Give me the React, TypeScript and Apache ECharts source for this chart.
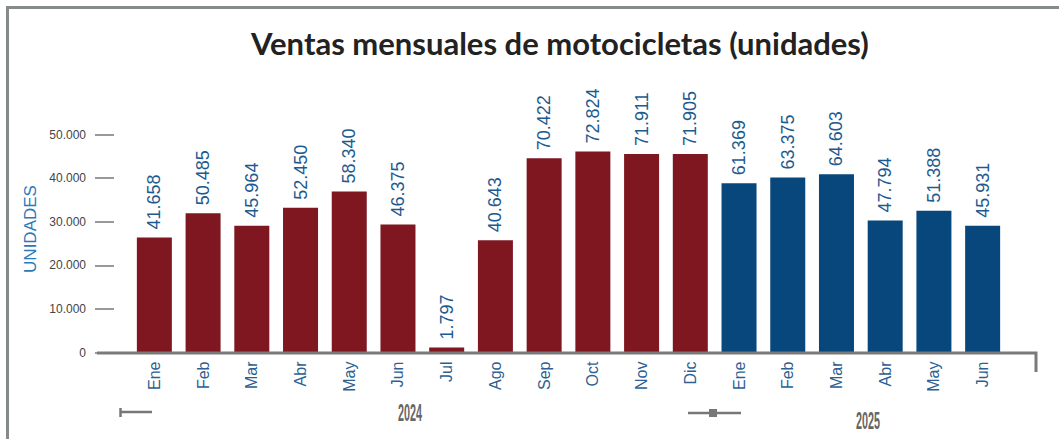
import React, { useEffect, useRef } from "react";
import * as echarts from "echarts";

const months = ["Ene", "Feb", "Mar", "Abr", "May", "Jun", "Jul", "Ago", "Sep", "Oct", "Nov", "Dic", "Ene", "Feb", "Mar", "Abr", "May", "Jun"];
const values2024 = [41658, 50485, 45964, 52450, 58340, 46375, 1797, 40643, 70422, 72824, 71911, 71905];
const values2025 = [61369, 63375, 64603, 47794, 51388, 45931];
const yTickLabels = ["0", "10.000", "20.000", "30.000", "40.000", "50.000"];
const years = ["2024", "2025"];
// data units between two labelled ticks of the original (mis-scaled) axis
const AXIS_STEP = 15800;

const color2024 = "#7e1720";
const color2025 = "#07477b";

const fmt = (n: number) => String(n).replace(/\B(?=(\d{3})+(?!\d))/g, ".");

export default function App() {
  const ref = useRef<HTMLDivElement>(null);
  useEffect(() => {
    if (!ref.current) return;
    const chart = echarts.init(ref.current, null, { renderer: "svg" });
    const data = [
      ...values2024.map((v) => ({ value: v, itemStyle: { color: color2024 } })),
      ...values2025.map((v) => ({ value: v, itemStyle: { color: color2025 } })),
    ];
    const yearText = (t: string, x: number, y: number) => ({
      type: "group",
      x,
      y,
      scaleX: 0.47,
      children: [
        {
          type: "text",
          style: {
            text: t,
            fill: "#666666",
            font: "bold 23px 'Liberation Sans', sans-serif",
            align: "center",
            verticalAlign: "middle",
          },
        },
      ],
    });
    chart.setOption({
      animation: false,
      backgroundColor: "#ffffff",
      title: {
        text: "Ventas mensuales de motocicletas (unidades)",
        left: 246,
        top: 22,
        textStyle: { fontFamily: "Lato", fontWeight: 700, fontSize: 31, color: "#222222" },
      },
      grid: { left: 130, right: 52, top: 134.5, bottom: 86.5 },
      xAxis: {
        type: "category",
        data: months,
        axisLine: { show: false },
        axisTick: { show: false },
        axisLabel: {
          rotate: 90,
          margin: 9,
          interval: 0,
          color: "#2d5f92",
          fontFamily: "Liberation Sans",
          fontSize: 16,
        },
      },
      yAxis: {
        type: "value",
        min: 0,
        max: AXIS_STEP * (yTickLabels.length - 1),
        interval: AXIS_STEP,
        offset: 16,
        axisLine: { show: false },
        axisTick: { show: true, length: 19, lineStyle: { color: "#777777", width: 1.5 } },
        splitLine: { show: false },
        axisLabel: {
          margin: 28,
          color: "#444444",
          fontFamily: "Liberation Sans",
          fontSize: 12,
          formatter: (v: number) => yTickLabels[Math.round(v / AXIS_STEP)] ?? "",
        },
      },
      series: [
        {
          type: "bar",
          data,
          barWidth: 35,
          label: {
            show: true,
            position: "top",
            rotate: 90,
            align: "left",
            verticalAlign: "middle",
            distance: 8,
            color: "#1c5a8f",
            fontFamily: "Liberation Sans",
            fontSize: 18,
            formatter: (p: any) => fmt(p.value),
          },
        },
      ],
      graphic: [
        {
          type: "polyline",
          shape: { points: [[7.5, 439], [7.5, 7.5], [1059, 7.5]] },
          style: { stroke: "#868a89", lineWidth: 3, fill: "none" },
        },
        {
          type: "polyline",
          shape: { points: [[97, 353], [1036, 353], [1036, 372]] },
          style: { stroke: "#7a7a7a", lineWidth: 3, fill: "none" },
          z: 10,
        },
        {
          type: "text",
          x: 30,
          y: 229,
          rotation: Math.PI / 2,
          style: {
            text: "UNIDADES",
            fill: "#2a7ab8",
            font: "17px 'Liberation Sans Narrow', 'Liberation Sans', sans-serif",
            align: "center",
            verticalAlign: "middle",
          },
        },
        // decorative remains of the original grouped axis
        {
          type: "line",
          shape: { x1: 120, y1: 412, x2: 152, y2: 412 },
          style: { stroke: "#777777", lineWidth: 2.5 },
        },
        {
          type: "line",
          shape: { x1: 120.5, y1: 408, x2: 120.5, y2: 417 },
          style: { stroke: "#777777", lineWidth: 2.5 },
        },
        {
          type: "line",
          shape: { x1: 688, y1: 413, x2: 741, y2: 413 },
          style: { stroke: "#777777", lineWidth: 2.5 },
        },
        {
          type: "rect",
          shape: { x: 709, y: 409, width: 8, height: 8 },
          style: { fill: "#777777" },
        },
        yearText(years[0], 410, 413),
        yearText(years[1], 868, 421),
      ],
    });
    return () => chart.dispose();
  }, []);
  return (
    <div
      ref={ref}
      style={{ position: "fixed", left: 0, top: 0, width: 1059, height: 439, background: "#fff" }}
    />
  );
}
